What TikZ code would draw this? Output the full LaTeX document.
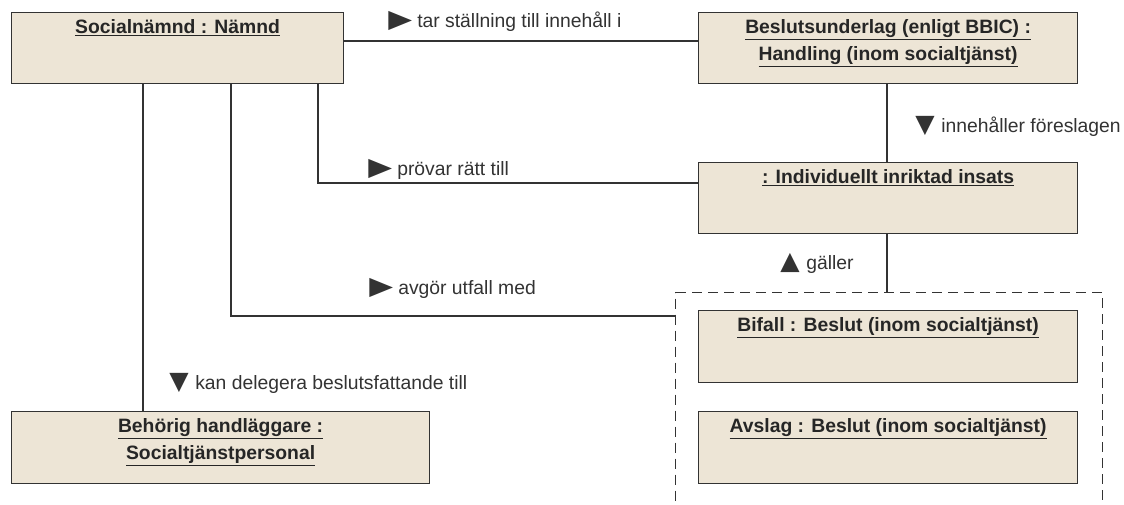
\documentclass[tikz,border=0pt]{standalone}
\usepackage{fontspec}
\setmainfont{Liberation Sans}
\newfontfamily\symfont{DejaVu Sans}
\usetikzlibrary{calc}
\definecolor{objfill}{HTML}{EDE5D6}
\definecolor{objline}{HTML}{333333}
\newcommand\rtri{\makebox[21.75pt][l]{\scalebox{1.6}[1.3]{\symfont ▶}}}
\newcommand\dtri{\makebox[19.5pt][l]{\scalebox{1.3}{\symfont ▼}}}
\newcommand\utri{\makebox[19.5pt][l]{\scalebox{1.3}{\symfont ▲}}}
\begin{document}
\begin{tikzpicture}[x=0.75pt,y=-0.75pt,
 obj/.style={draw=objline, fill=objfill, line width=0.9pt, rectangle, inner sep=0, anchor=north west},
 ttl/.style={font=\bfseries\fontsize{14.5}{20.25}\selectfont, text=black!85, align=center, inner sep=0, anchor=base},
 lbl/.style={font=\fontsize{14.5}{17}\selectfont, text=black!80, inner sep=0, anchor=base west},
 conn/.style={draw=objline, line width=0.9pt},
 frm/.style={draw=objline, line width=0.9pt, dash pattern=on 7.5pt off 4.5pt, rectangle, inner sep=0, anchor=north west}]
\useasboundingbox (0,0) rectangle (1124,504);
\clip (0,0) rectangle (1124,504);
\fill[white] (0,0) rectangle (1124,504);

% boxes
\node[obj, minimum width=249pt, minimum height=53.25pt] (soc) at (11,12) {};
\node[obj, minimum width=284.25pt, minimum height=53.25pt] (bes) at (698,12) {};
\node[obj, minimum width=284.25pt, minimum height=53.25pt] (ind) at (698,162) {};
\node[frm, minimum width=320.25pt, minimum height=171pt] (frame) at (675,292) {};
\node[obj, minimum width=284.25pt, minimum height=54pt] (bif) at (698,310) {};
\node[obj, minimum width=284.25pt, minimum height=54pt] (avs) at (698,411) {};
\node[obj, minimum width=313.5pt, minimum height=54pt] (beh) at (11,411) {};

% titles
\node[ttl] (socT) at ($(soc.north)+(0,21)$) {\underline{Socialnämnd : Nämnd}};
\node[ttl] (besT) at ($(bes.north)+(0,48)$) {\underline{Beslutsunderlag (enligt BBIC) :}\\\underline{Handling (inom socialtjänst)}};
\node[ttl] (indT) at ($(ind.north)+(0,21)$) {\underline{: Individuellt inriktad insats}};
\node[ttl] (bifT) at ($(bif.north)+(0,21)$) {\underline{Bifall : Beslut (inom socialtjänst)}};
\node[ttl] (avsT) at ($(avs.north)+(0,21)$) {\underline{Avslag : Beslut (inom socialtjänst)}};
\node[ttl] (behT) at ($(beh.north)+(0,48)$) {\underline{Behörig handläggare :}\\\underline{Socialtjänstpersonal}};

% connectors
\draw[conn] (soc.east |- 0,41) -- (bes.west |- 0,41);
\draw[conn] (bes.south -| 887,0) -- (ind.north -| 887,0);
\draw[conn] (ind.south -| 887,0) -- (frame.north -| 887,0);
\draw[conn] (soc.south -| 318,0) |- (ind.west |- 0,183);
\draw[conn] (soc.south -| 231,0) |- (frame.west |- 0,316);
\draw[conn] (soc.south -| 143,0) -- (beh.north -| 143,0);

% labels
\node[lbl] (l1) at (388,27) {\rtri tar ställning till innehåll i};
\node[lbl] (l2) at (915,132) {\dtri innehåller föreslagen};
\node[lbl] (l3) at (368,175) {\rtri prövar rätt till};
\node[lbl] (l4) at (780,269) {\utri gäller};
\node[lbl] (l5) at (369,294) {\rtri avgör utfall med};
\node[lbl] (l6) at (169,389) {\dtri kan delegera beslutsfattande till};
\end{tikzpicture}
\end{document}
